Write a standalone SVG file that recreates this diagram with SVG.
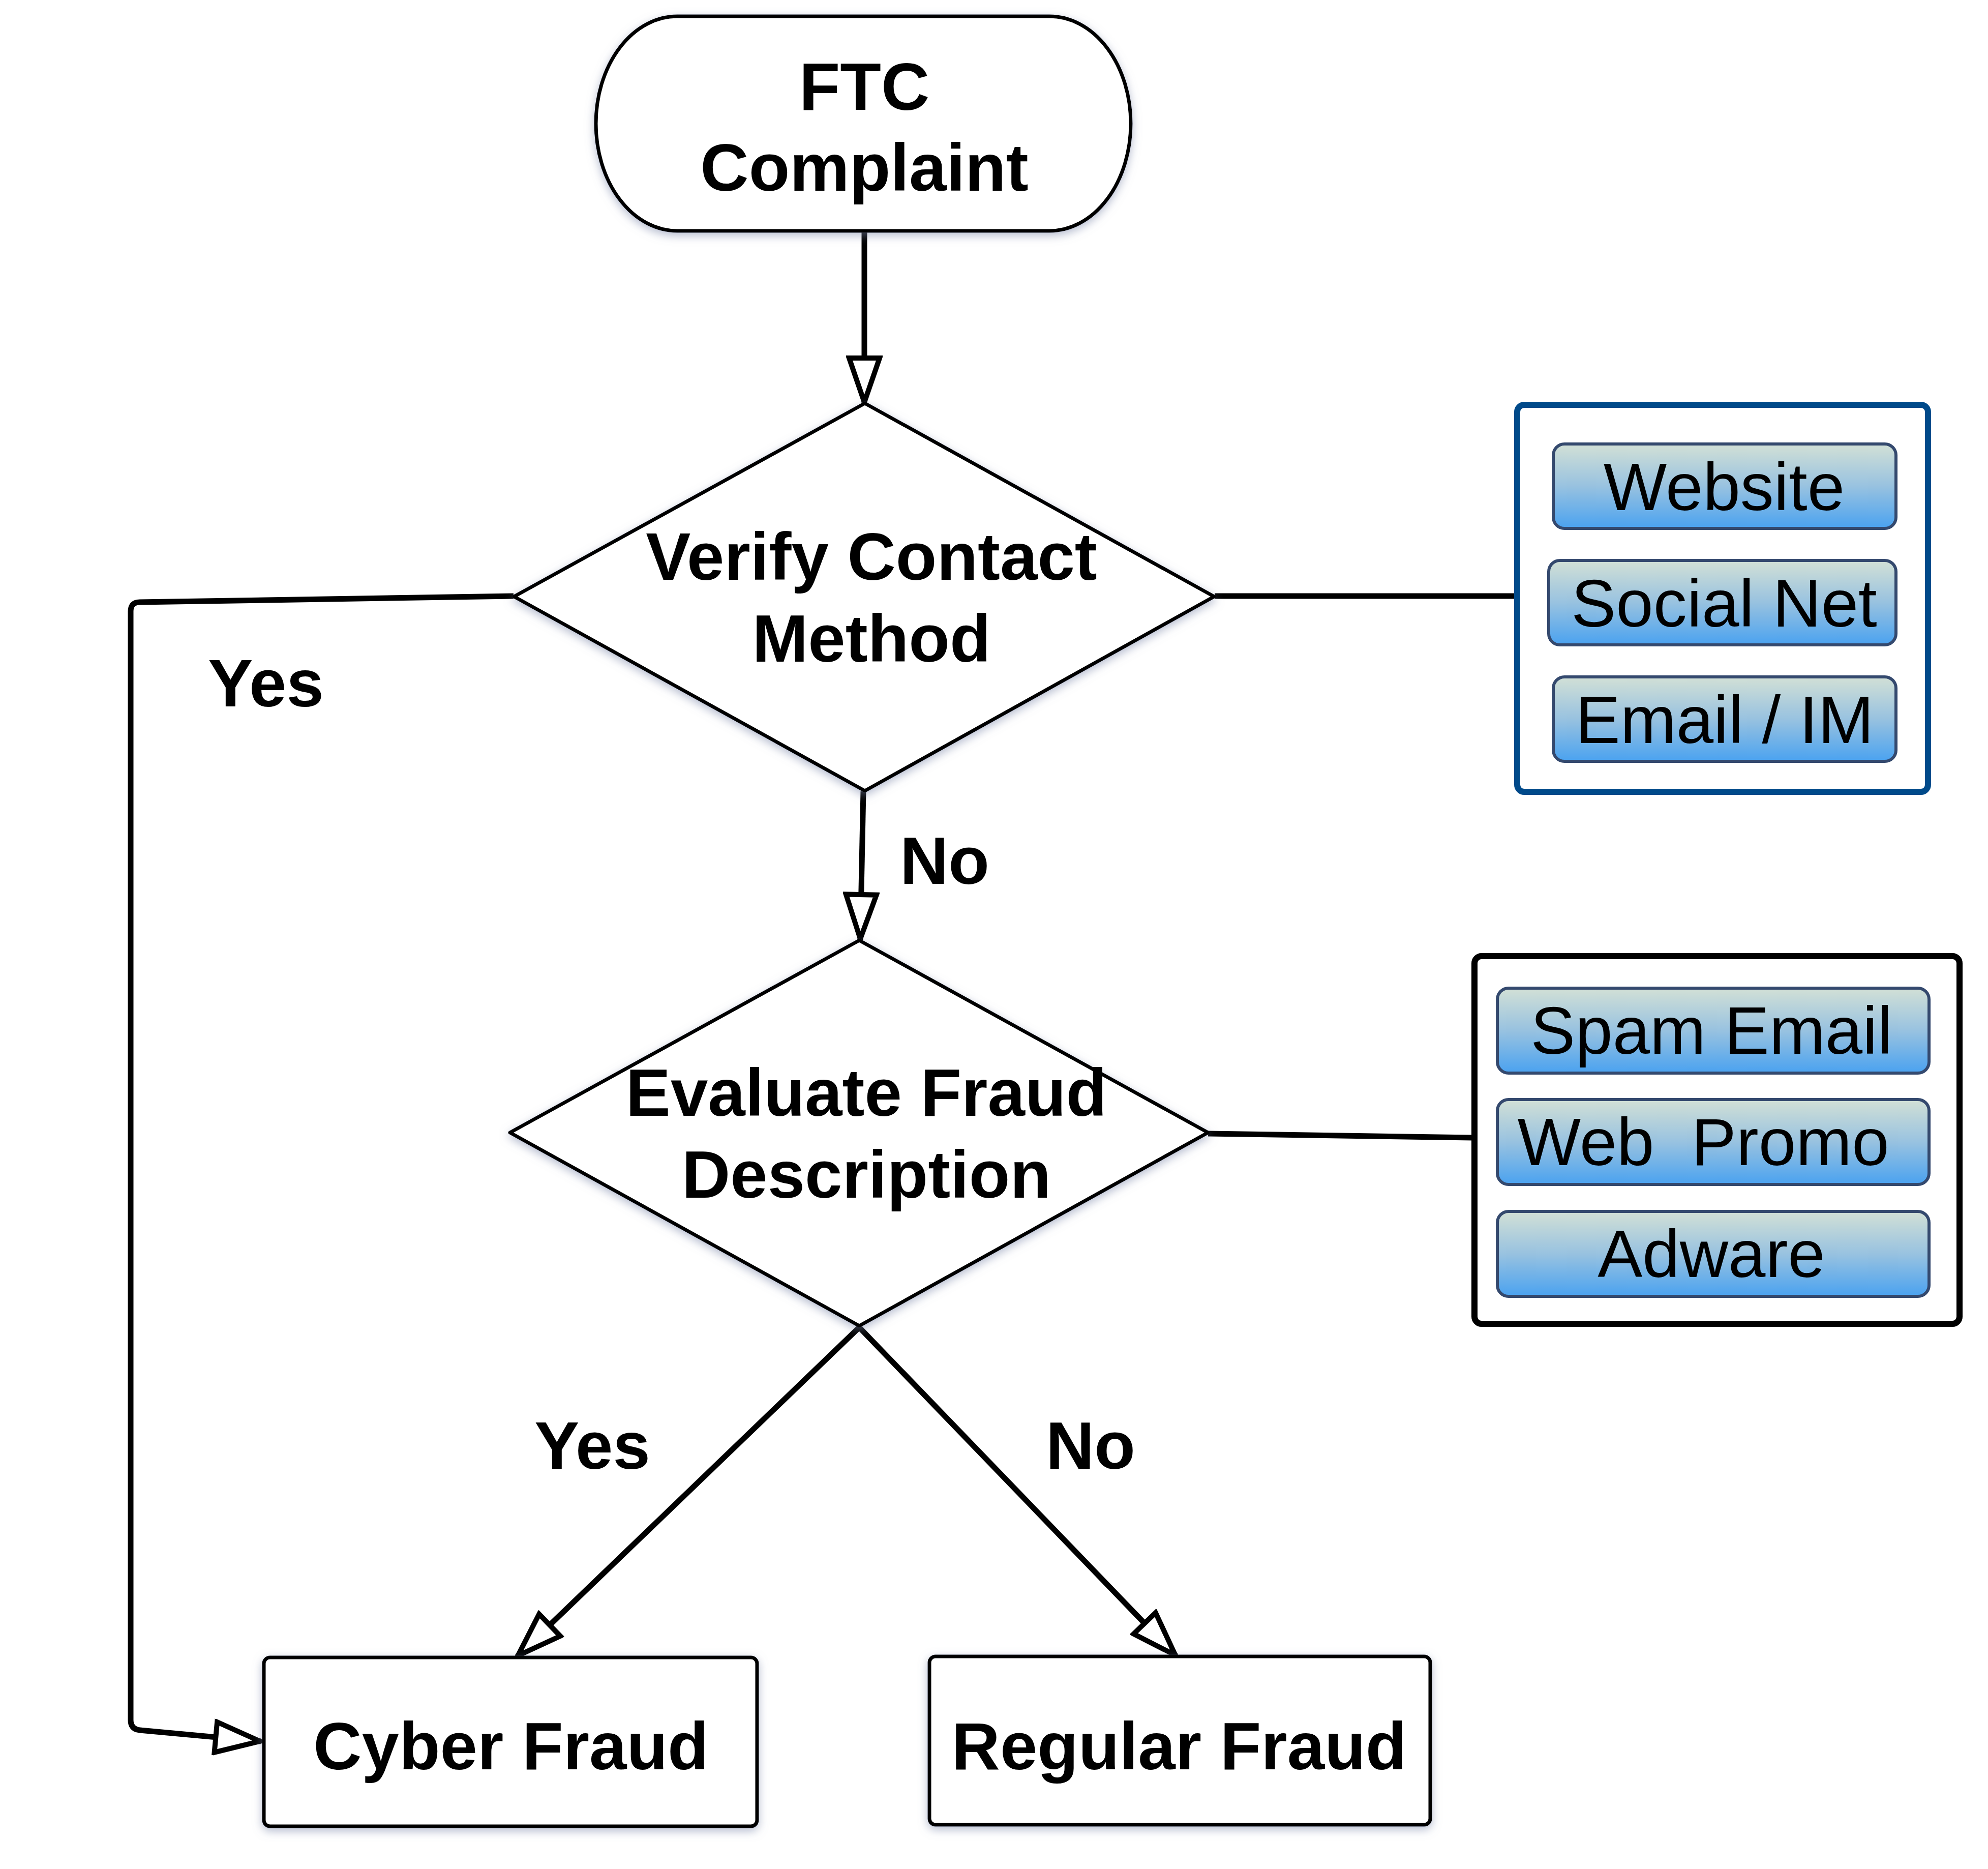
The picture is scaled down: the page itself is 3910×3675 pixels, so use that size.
<svg xmlns="http://www.w3.org/2000/svg" width="3910" height="3675" viewBox="0 0 3910 3675">
<style>
.lbl{font-family:"Liberation Sans",Arial,Helvetica,sans-serif;font-weight:bold;font-size:132px;fill:#000;text-anchor:middle}
.item{font-family:"Liberation Sans",Arial,Helvetica,sans-serif;font-size:132px;fill:#000;text-anchor:middle;white-space:pre}
.node{fill:#fff;stroke:#000;stroke-width:7;stroke-linejoin:round;filter:url(#sh)}
.conn{fill:none;stroke:#000;stroke-width:11;stroke-linejoin:round}
.pill{fill:url(#g);stroke:#34496e;stroke-width:6}
</style>
<defs>
<linearGradient id="g" x1="0" y1="0" x2="0" y2="1">
<stop offset="0" stop-color="#d2e0d6"/>
<stop offset="0.5" stop-color="#98c2e0"/>
<stop offset="1" stop-color="#4aa2f0"/>
</linearGradient>
<filter id="sh" x="-10%" y="-10%" width="120%" height="120%">
<feDropShadow dx="0" dy="6" stdDeviation="9" flood-color="#7a86a8" flood-opacity="0.55"/>
</filter>
<marker id="arr" viewBox="0 0 100 72" refX="95" refY="36" markerWidth="100" markerHeight="72" orient="auto" markerUnits="userSpaceOnUse">
<path d="M6,6 L93,36 L6,66 Z" fill="#fff" stroke="#000" stroke-width="10" stroke-linejoin="miter"/>
</marker>
</defs>
<rect width="3910" height="3675" fill="#fff"/>

<g id="connectors">
<path class="conn" d="M1700,454 L1700,793" marker-end="url(#arr)"/>
<path class="conn" d="M1698,1556 L1692,1848" marker-end="url(#arr)"/>
<path class="conn" d="M1010,1172 L275,1184 Q257,1184 257,1202 L257,3382 Q257,3400 275,3402 L513,3424" marker-end="url(#arr)"/>
<path class="conn" d="M2389,1172 L2982,1172"/>
<path class="conn" d="M2376,2229 L2896,2237"/>
<path class="conn" d="M1690,2610 L1017,3257" marker-end="url(#arr)"/>
<path class="conn" d="M1690,2610 L2313,3256" marker-end="url(#arr)"/>
</g>

<g id="ftc-complaint">
<rect class="node" x="1172" y="32" width="1052" height="422" rx="160" ry="211"/>
<text class="lbl" x="1700" y="216">FTC</text>
<text class="lbl" x="1700" y="375">Complaint</text>
</g>

<g id="verify-contact">
<polygon class="node" points="1701,793 2388,1173 1701,1555 1011,1173"/>
<text class="lbl" x="1714" y="1140">Verify Contact</text>
<text class="lbl" x="1714" y="1301">Method</text>
</g>

<g id="evaluate-fraud">
<polygon class="node" points="1690,1849 2376,2227 1690,2607 1003,2227"/>
<text class="lbl" x="1704" y="2194">Evaluate Fraud</text>
<text class="lbl" x="1704" y="2355">Description</text>
</g>

<g id="cyber-fraud">
<rect class="node" x="519" y="3259" width="970" height="332" rx="12"/>
<text class="lbl" x="1005" y="3479">Cyber Fraud</text>
</g>

<g id="regular-fraud">
<rect class="node" x="1828" y="3257" width="985" height="331" rx="12"/>
<text class="lbl" x="2319" y="3479">Regular Fraud</text>
</g>

<g id="contact-methods">
<rect x="2984" y="796" width="808" height="761" rx="14" fill="#fff" stroke="#004a8a" stroke-width="12"/>
<rect class="pill" x="3055" y="873" width="674" height="166" rx="22"/>
<text class="item" x="3391" y="1003">Website</text>
<rect class="pill" x="3046" y="1102" width="683" height="166" rx="22"/>
<text class="item" x="3391" y="1232">Social Net</text>
<rect class="pill" x="3055" y="1331" width="674" height="166" rx="22"/>
<text class="item" x="3392" y="1461">Email / IM</text>
</g>

<g id="fraud-types">
<rect x="2900" y="1880" width="954" height="723" rx="14" fill="#fff" stroke="#000" stroke-width="12"/>
<rect class="pill" x="2945" y="1943" width="849" height="167" rx="22"/>
<text class="item" x="3366" y="2072">Spam Email</text>
<rect class="pill" x="2945" y="2162" width="849" height="167" rx="22"/>
<text class="item" x="3350" y="2291">Web  Promo</text>
<rect class="pill" x="2945" y="2382" width="849" height="167" rx="22"/>
<text class="item" x="3366" y="2511">Adware</text>
</g>

<g id="labels">
<text class="lbl" x="523" y="1389">Yes</text>
<text class="lbl" x="1858" y="1738">No</text>
<text class="lbl" x="1165" y="2888">Yes</text>
<text class="lbl" x="2145" y="2888">No</text>
</g>
</svg>
